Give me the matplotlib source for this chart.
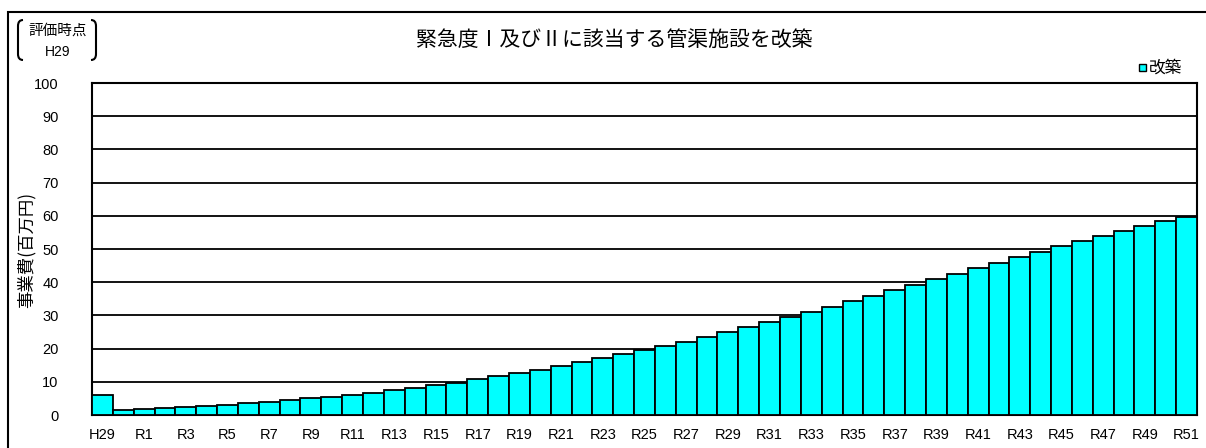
import matplotlib
matplotlib.use("Agg")
import matplotlib.pyplot as plt
from matplotlib import font_manager
from matplotlib.path import Path
from matplotlib.patches import PathPatch, Rectangle

# ---- data ----
categories = ["H29", "H30"] + [f"R{i}" for i in range(1, 52)]
values = [6.0, 1.4, 1.8, 2.1, 2.4, 2.7, 3.1, 3.5, 4.0, 4.5, 5.0, 5.4, 6.1, 6.7, 7.6,
          8.1, 9.0, 9.7, 10.7, 11.6, 12.6, 13.6, 14.8, 15.9, 17.1, 18.3, 19.5, 20.8,
          22.1, 23.5, 24.9, 26.5, 27.9, 29.4, 31.0, 32.6, 34.2, 35.8, 37.7, 39.1,
          40.9, 42.5, 44.2, 45.9, 47.5, 49.2, 50.8, 52.4, 54.0, 55.5, 56.9, 58.4, 59.6]
yticks = list(range(0, 101, 10))
title = "緊急度Ⅰ及びⅡに該当する管渠施設を改築"
ylabel = "事業費(百万円)"
legend_label = "改築"
corner_text = ["評価時点", "H29"]

names = {f.name for f in font_manager.fontManager.ttflist}
tick_font = "Liberation Sans Narrow" if "Liberation Sans Narrow" in names else "Liberation Sans"
tick_size = 11.5 if tick_font == "Liberation Sans Narrow" else 10.5
cjk = ["Noto Sans CJK JP", "DejaVu Sans"]

W, H = 1206, 448
fig = plt.figure(figsize=(W / 100, H / 100), dpi=100)

def fx(x):
    return x / W

def fy(y):
    return 1 - y / H

# outer frame (only top & left visible)
fig.patches.append(Rectangle((fx(8), fy(460)), fx(1220) - fx(8), fy(12) - fy(460),
                             transform=fig.transFigure, fill=False, edgecolor="black",
                             linewidth=1.5))

ax = fig.add_axes([fx(92), fy(415), fx(1197) - fx(92), fy(83) - fy(415)])
x = list(range(len(categories)))
ax.bar(x, values, width=1.0, color="#00FFFF", edgecolor="black", linewidth=1.3, zorder=3)
ax.set_xlim(-0.5, len(categories) - 0.5)
ax.set_ylim(0, 100)
ax.set_yticks(yticks)
ax.yaxis.grid(True, color="black", linewidth=1.3, zorder=0)
ax.set_axisbelow(True)
for s in ax.spines.values():
    s.set_linewidth(1.5)
    s.set_color("black")

ax.set_xticks(x[::2])
ax.set_xticklabels(categories[::2])
ax.tick_params(axis="y", length=0, pad=24)
ax.tick_params(axis="x", length=0, pad=9)
for lab in ax.get_xticklabels() + ax.get_yticklabels():
    lab.set_fontfamily(tick_font)
    lab.set_fontsize(tick_size)

fig.text(fx(614), fy(40), title, ha="center", va="center", fontsize=15, family=cjk)
fig.text(fx(26), fy(250), ylabel, ha="center", va="center", rotation=90, fontsize=12.5,
         family=cjk)

# legend
fig.patches.append(Rectangle((fx(1139), fy(71)), fx(7), fy(64) - fy(71), transform=fig.transFigure,
                             facecolor="#00FFFF", edgecolor="black", linewidth=1))
fig.text(fx(1149), fy(68), legend_label, ha="left", va="center", fontsize=12, family=cjk)

# corner label with brackets
fig.text(fx(58), fy(31), corner_text[0], ha="center", va="center", fontsize=10.5, family=cjk)
fig.text(fx(58), fy(52), corner_text[1], ha="center", va="center", fontsize=10, family=tick_font)

def bracket(xo, xi, y0, y1):
    verts = [(fx(xi), fy(y0)), (fx(xo), fy(y0)), (fx(xo), fy(y0 + 6)),
             (fx(xo), fy(y1 - 6)), (fx(xo), fy(y1)), (fx(xi), fy(y1))]
    codes = [Path.MOVETO, Path.CURVE3, Path.CURVE3, Path.LINETO, Path.CURVE3, Path.CURVE3]
    fig.patches.append(PathPatch(Path(verts, codes), transform=fig.transFigure, fill=False,
                                 edgecolor="black", linewidth=1.5))

bracket(18, 23, 20, 60)
bracket(96, 91, 20, 60)

fig.savefig("out.png", dpi=100)
